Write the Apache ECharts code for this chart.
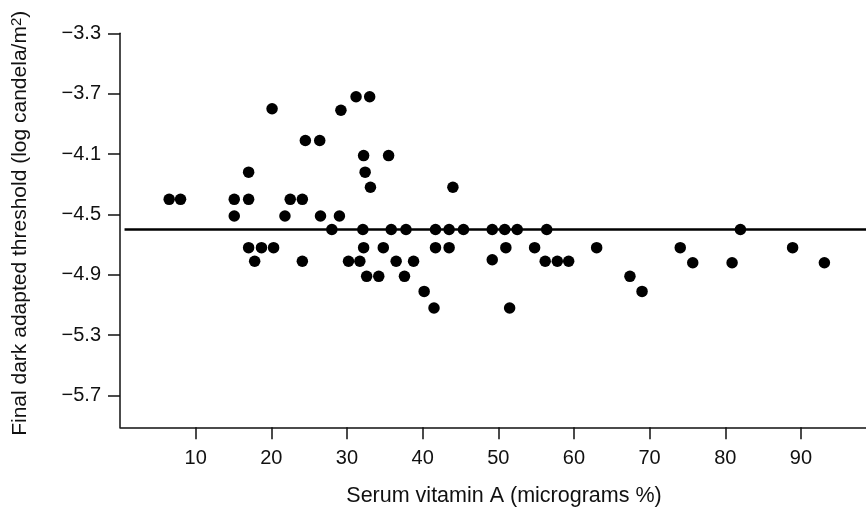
<!DOCTYPE html>
<html>
<head>
<meta charset="utf-8">
<script src="https://cdn.jsdelivr.net/npm/echarts@6/dist/echarts.min.js"></script>
<style>html,body{margin:0;padding:0;background:#fff}#c{width:866px;height:512px}</style>
</head>
<body>
<div id="c"></div>
<script>
const serumVitA = [6.5, 8.0, 15.1, 15.1, 17.0, 17.0, 17.0, 17.8, 18.7, 20.3, 20.1, 21.8, 22.5, 24.1, 24.1, 24.5, 26.4, 26.5, 28.0, 29.0, 29.2, 30.2, 31.2, 31.7, 32.2, 32.4, 33.1, 33.0, 32.1, 32.2, 32.6, 34.2, 34.8, 35.5, 35.85, 36.5, 37.6, 37.8, 38.8, 40.2, 41.5, 41.7, 41.7, 43.5, 43.5, 44.0, 45.4, 49.2, 49.2, 50.85, 51.0, 51.5, 52.5, 54.8, 56.4, 56.2, 57.8, 59.3, 63.0, 67.4, 69.0, 74.05, 75.7, 80.9, 82.0, 88.9, 93.1];
const threshold = [-4.40, -4.40, -4.40, -4.51, -4.40, -4.22, -4.72, -4.81, -4.72, -4.72, -3.80, -4.51, -4.40, -4.40, -4.81, -4.01, -4.01, -4.51, -4.60, -4.51, -3.81, -4.81, -3.72, -4.81, -4.11, -4.22, -4.32, -3.72, -4.60, -4.72, -4.91, -4.91, -4.72, -4.11, -4.60, -4.81, -4.91, -4.60, -4.81, -5.01, -5.12, -4.60, -4.72, -4.60, -4.72, -4.32, -4.60, -4.60, -4.80, -4.60, -4.72, -5.12, -4.60, -4.72, -4.60, -4.81, -4.81, -4.81, -4.72, -4.91, -5.01, -4.72, -4.82, -4.82, -4.60, -4.72, -4.82];
const xTicks = [10, 20, 30, 40, 50, 60, 70, 80, 90];
const yTicks = [-3.3, -3.7, -4.1, -4.5, -4.9, -5.3, -5.7];
const refLineX = [0.6, 98.6];
const refLineY = [-4.6, -4.6];

const pts = serumVitA.map((x, i) => [x, threshold[i]]);
const linePts = refLineX.map((x, i) => [x, refLineY[i]]);
const font = '"Liberation Sans", Arial, sans-serif';

const chart = echarts.init(document.getElementById('c'), null, {renderer: 'canvas'});
chart.setOption({
  animation: false,
  backgroundColor: '#fff',
  grid: {left: 120, right: 0, top: 33.3, bottom: 84.7, containLabel: false, outerBoundsMode: 'none'},
  xAxis: {
    type: 'value', min: 0, max: 98.6,
    name: 'Serum vitamin A (micrograms %)', nameLocation: 'middle', nameGap: 58,
    nameTextStyle: {fontFamily: font, fontSize: 21.5, color: '#111', padding: [0, 0, 0, 22]},
    axisLine: {show: true, lineStyle: {color: '#111', width: 1.5}},
    axisTick: {show: true, length: 12, customValues: xTicks, lineStyle: {color: '#111', width: 1.5}},
    axisLabel: {customValues: xTicks, margin: 21, fontFamily: font, fontSize: 20, color: '#111'},
    splitLine: {show: false}
  },
  yAxis: {
    type: 'value', min: -5.91, max: -3.3,
    name: 'Final dark adapted threshold (log candela/m{sup|2})', nameLocation: 'middle', nameGap: 88,
    nameTextStyle: {fontFamily: font, fontSize: 21, color: '#111', padding: [0, 0, 0, 14],
      rich: {sup: {fontFamily: font, fontSize: 15, color: '#111', verticalAlign: 'top', padding: [0, 0, 8, 0]}}},
    axisLine: {show: true, lineStyle: {color: '#111', width: 1.5}},
    axisTick: {show: true, length: 12, customValues: yTicks, lineStyle: {color: '#111', width: 1.5}},
    axisLabel: {customValues: yTicks, margin: 19, fontFamily: font, fontSize: 20, color: '#111',
      formatter: v => (v < 0 ? '\u2212' : '') + Math.abs(v).toFixed(1)},
    splitLine: {show: false}
  },
  series: [
    {type: 'line', data: linePts, symbol: 'none', lineStyle: {color: '#000', width: 2.5}, z: 1},
    {type: 'scatter', data: pts, symbol: 'circle', symbolSize: 11.5, itemStyle: {color: '#000', opacity: 1}, z: 2}
  ]
});
</script>
</body>
</html>
